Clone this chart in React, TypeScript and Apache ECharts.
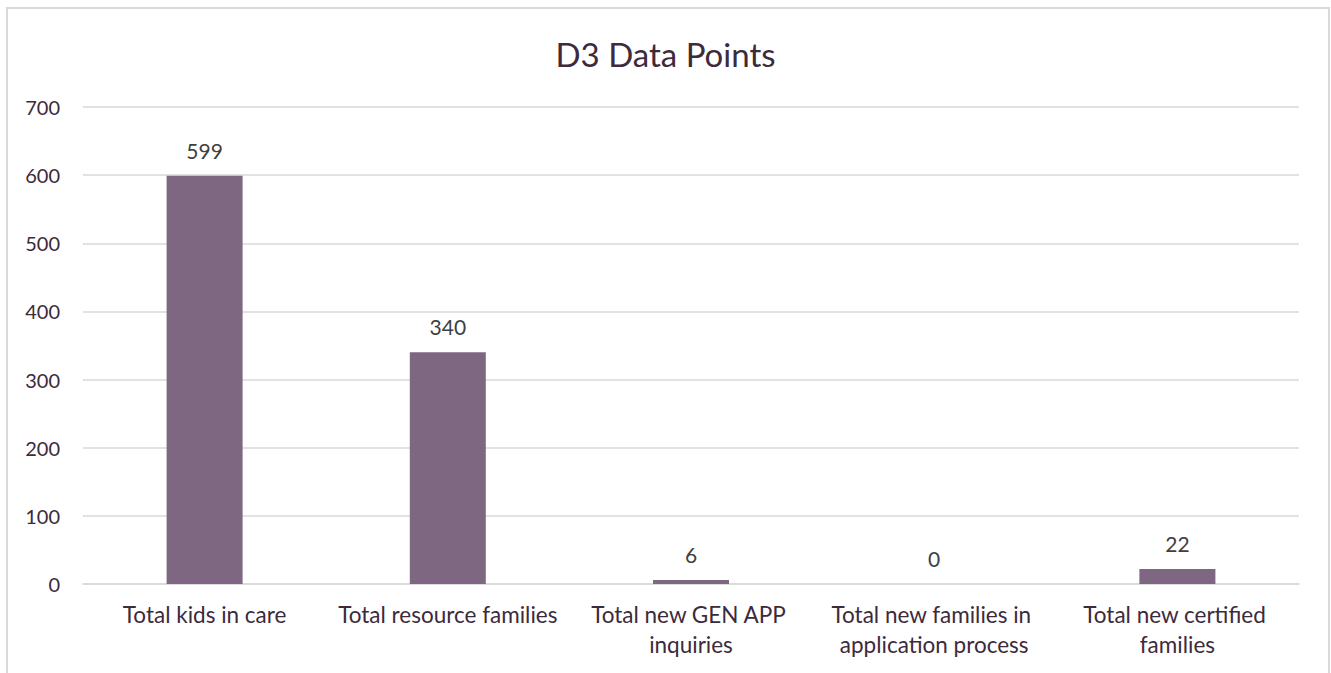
import React, { useEffect, useRef } from "react";
import * as echarts from "echarts";

const categories = [
  "Total kids in care",
  "Total resource families",
  "Total new GEN APP inquiries",
  "Total new families in application process",
  "Total new certified families",
];
const values = [599, 340, 6, 0, 22];
const titleText = "D3 Data Points";

const FONT = "Lato, 'Open Sans', sans-serif";
const TEXT = "#3d2a3b";

export default function App() {
  const ref = useRef<HTMLDivElement>(null);
  useEffect(() => {
    document.body.style.margin = "0";
    const chart = echarts.init(ref.current!, undefined, { renderer: "svg" });
    chart.setOption({
      animation: false,
      backgroundColor: "#ffffff",
      title: {
        text: titleText,
        left: "center",
        top: 32,
        textStyle: { fontFamily: FONT, fontSize: 33, fontWeight: "normal", color: TEXT },
      },
      graphic: [
        {
          type: "rect",
          shape: { x: 7, y: 8, width: 1322, height: 700 },
          style: { fill: "none", stroke: "#d9d9d9", lineWidth: 2 },
          silent: true,
        },
      ],
      grid: { left: 83, right: 32, top: 107, bottom: 89 },
      xAxis: {
        type: "category",
        data: categories,
        axisLine: { show: true, lineStyle: { color: "#d9d9d9", width: 1.5 } },
        axisTick: { show: false },
        axisLabel: {
          fontFamily: FONT,
          fontSize: 22.5,
          color: TEXT,
          margin: 15,
          width: 235,
          overflow: "break",
          lineHeight: 30,
          interval: 0,
        },
      },
      yAxis: {
        type: "value",
        min: 0,
        max: 700,
        interval: 100,
        axisLine: { show: false },
        axisTick: { show: false },
        splitLine: { lineStyle: { color: "#d9d9d9", width: 1.5 } },
        axisLabel: { fontFamily: FONT, fontSize: 20, color: TEXT, margin: 23 },
      },
      series: [
        {
          type: "bar",
          data: values,
          barWidth: 76,
          itemStyle: { color: "#7e6781" },
          label: {
            show: true,
            position: "top",
            distance: 15,
            fontFamily: FONT,
            fontSize: 21,
            color: "#404040",
          },
        },
      ],
    });
    return () => chart.dispose();
  }, []);
  return <div ref={ref} style={{ width: 1331, height: 673 }} />;
}
